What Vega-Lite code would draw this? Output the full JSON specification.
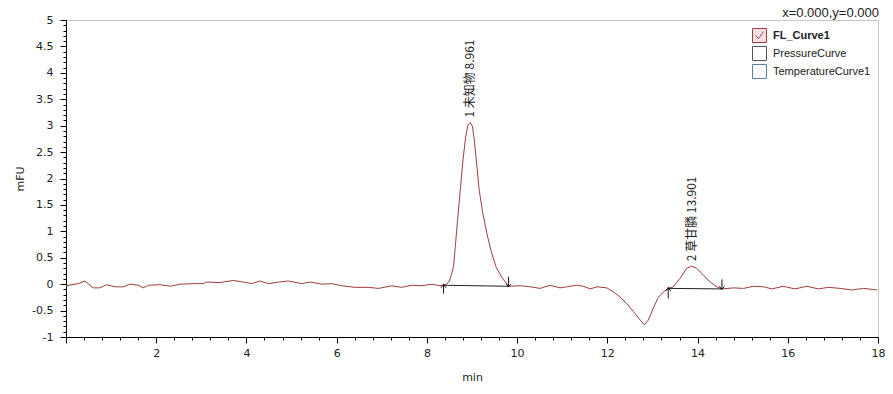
{
  "$schema": "https://vega.github.io/schema/vega-lite/v6.json",
  "width": 812,
  "height": 317,
  "autosize": {"type": "none"},
  "padding": {"left": 66, "top": 20, "right": 15, "bottom": 57},
  "background": "white",
  "title": {"text": "x=0.000,y=0.000", "anchor": "end", "font": "Liberation Sans", "fontSize": 13, "fontWeight": "normal", "color": "#222222", "offset": -6, "dx": -6},
  "config": {
    "view": {"stroke": "#c8c8c8", "strokeWidth": 1},
    "axis": {"domainColor": "#000000", "tickColor": "#000000", "labelColor": "#222222", "titleColor": "#222222", "labelFont": "DejaVu Sans", "labelFontSize": 11, "titleFont": "DejaVu Sans", "titleFontSize": 11, "titleFontWeight": "normal", "grid": false, "labelOverlap": false, "labelBound": false, "tickCount": 200}
  },
  "datasets": {
    "curve": [
      {"t": 0.0, "v": -0.03, "series": "FL_Curve1"}, {"t": 0.27, "v": 0.01, "series": "FL_Curve1"}, {"t": 0.42, "v": 0.06, "series": "FL_Curve1"}, {"t": 0.6, "v": -0.07, "series": "FL_Curve1"}, {"t": 0.75, "v": -0.07, "series": "FL_Curve1"}, {"t": 0.9, "v": -0.01, "series": "FL_Curve1"}, {"t": 1.09, "v": -0.05, "series": "FL_Curve1"}, {"t": 1.27, "v": -0.05, "series": "FL_Curve1"}, {"t": 1.42, "v": 0.0, "series": "FL_Curve1"}, {"t": 1.6, "v": -0.02, "series": "FL_Curve1"}, {"t": 1.71, "v": -0.07, "series": "FL_Curve1"}, {"t": 1.83, "v": -0.02, "series": "FL_Curve1"}, {"t": 2.08, "v": -0.01, "series": "FL_Curve1"}, {"t": 2.31, "v": -0.04, "series": "FL_Curve1"}, {"t": 2.53, "v": 0.0, "series": "FL_Curve1"}, {"t": 2.82, "v": 0.01, "series": "FL_Curve1"}, {"t": 3.04, "v": 0.01, "series": "FL_Curve1"}, {"t": 3.12, "v": 0.04, "series": "FL_Curve1"}, {"t": 3.41, "v": 0.03, "series": "FL_Curve1"}, {"t": 3.71, "v": 0.07, "series": "FL_Curve1"}, {"t": 3.93, "v": 0.04, "series": "FL_Curve1"}, {"t": 4.12, "v": 0.01, "series": "FL_Curve1"}, {"t": 4.29, "v": 0.06, "series": "FL_Curve1"}, {"t": 4.49, "v": 0.01, "series": "FL_Curve1"}, {"t": 4.71, "v": 0.04, "series": "FL_Curve1"}, {"t": 4.93, "v": 0.06, "series": "FL_Curve1"}, {"t": 5.23, "v": 0.01, "series": "FL_Curve1"}, {"t": 5.41, "v": 0.04, "series": "FL_Curve1"}, {"t": 5.67, "v": 0.0, "series": "FL_Curve1"}, {"t": 5.89, "v": 0.01, "series": "FL_Curve1"}, {"t": 6.11, "v": -0.03, "series": "FL_Curve1"}, {"t": 6.41, "v": -0.06, "series": "FL_Curve1"}, {"t": 6.7, "v": -0.06, "series": "FL_Curve1"}, {"t": 6.93, "v": -0.08, "series": "FL_Curve1"}, {"t": 7.22, "v": -0.03, "series": "FL_Curve1"}, {"t": 7.44, "v": -0.06, "series": "FL_Curve1"}, {"t": 7.67, "v": -0.02, "series": "FL_Curve1"}, {"t": 7.89, "v": -0.03, "series": "FL_Curve1"}, {"t": 8.11, "v": 0.0, "series": "FL_Curve1"}, {"t": 8.29, "v": -0.03, "series": "FL_Curve1"}, {"t": 8.37, "v": -0.02, "series": "FL_Curve1"}, {"t": 8.44, "v": 0.0, "series": "FL_Curve1"}, {"t": 8.51, "v": 0.08, "series": "FL_Curve1"}, {"t": 8.59, "v": 0.33, "series": "FL_Curve1"}, {"t": 8.63, "v": 0.71, "series": "FL_Curve1"}, {"t": 8.68, "v": 1.21, "series": "FL_Curve1"}, {"t": 8.74, "v": 1.78, "series": "FL_Curve1"}, {"t": 8.8, "v": 2.35, "series": "FL_Curve1"}, {"t": 8.86, "v": 2.79, "series": "FL_Curve1"}, {"t": 8.91, "v": 3.01, "series": "FL_Curve1"}, {"t": 8.96, "v": 3.06, "series": "FL_Curve1"}, {"t": 9.01, "v": 2.99, "series": "FL_Curve1"}, {"t": 9.05, "v": 2.73, "series": "FL_Curve1"}, {"t": 9.11, "v": 2.22, "series": "FL_Curve1"}, {"t": 9.16, "v": 1.78, "series": "FL_Curve1"}, {"t": 9.24, "v": 1.34, "series": "FL_Curve1"}, {"t": 9.33, "v": 0.96, "series": "FL_Curve1"}, {"t": 9.42, "v": 0.64, "series": "FL_Curve1"}, {"t": 9.53, "v": 0.33, "series": "FL_Curve1"}, {"t": 9.66, "v": 0.13, "series": "FL_Curve1"}, {"t": 9.81, "v": -0.04, "series": "FL_Curve1"}, {"t": 10.07, "v": -0.03, "series": "FL_Curve1"}, {"t": 10.29, "v": -0.05, "series": "FL_Curve1"}, {"t": 10.51, "v": -0.08, "series": "FL_Curve1"}, {"t": 10.73, "v": -0.02, "series": "FL_Curve1"}, {"t": 10.95, "v": -0.07, "series": "FL_Curve1"}, {"t": 11.1, "v": -0.05, "series": "FL_Curve1"}, {"t": 11.32, "v": -0.02, "series": "FL_Curve1"}, {"t": 11.47, "v": -0.04, "series": "FL_Curve1"}, {"t": 11.62, "v": -0.09, "series": "FL_Curve1"}, {"t": 11.77, "v": -0.05, "series": "FL_Curve1"}, {"t": 11.99, "v": -0.07, "series": "FL_Curve1"}, {"t": 12.14, "v": -0.15, "series": "FL_Curve1"}, {"t": 12.28, "v": -0.24, "series": "FL_Curve1"}, {"t": 12.43, "v": -0.37, "series": "FL_Curve1"}, {"t": 12.58, "v": -0.52, "series": "FL_Curve1"}, {"t": 12.73, "v": -0.68, "series": "FL_Curve1"}, {"t": 12.82, "v": -0.77, "series": "FL_Curve1"}, {"t": 12.91, "v": -0.68, "series": "FL_Curve1"}, {"t": 13.02, "v": -0.45, "series": "FL_Curve1"}, {"t": 13.13, "v": -0.25, "series": "FL_Curve1"}, {"t": 13.24, "v": -0.15, "series": "FL_Curve1"}, {"t": 13.35, "v": -0.08, "series": "FL_Curve1"}, {"t": 13.46, "v": -0.05, "series": "FL_Curve1"}, {"t": 13.61, "v": 0.11, "series": "FL_Curve1"}, {"t": 13.76, "v": 0.3, "series": "FL_Curve1"}, {"t": 13.87, "v": 0.34, "series": "FL_Curve1"}, {"t": 13.98, "v": 0.3, "series": "FL_Curve1"}, {"t": 14.13, "v": 0.17, "series": "FL_Curve1"}, {"t": 14.28, "v": 0.04, "series": "FL_Curve1"}, {"t": 14.43, "v": -0.05, "series": "FL_Curve1"}, {"t": 14.54, "v": -0.09, "series": "FL_Curve1"}, {"t": 14.8, "v": -0.07, "series": "FL_Curve1"}, {"t": 15.02, "v": -0.08, "series": "FL_Curve1"}, {"t": 15.24, "v": -0.04, "series": "FL_Curve1"}, {"t": 15.46, "v": -0.05, "series": "FL_Curve1"}, {"t": 15.65, "v": -0.09, "series": "FL_Curve1"}, {"t": 15.9, "v": -0.04, "series": "FL_Curve1"}, {"t": 16.16, "v": -0.09, "series": "FL_Curve1"}, {"t": 16.42, "v": -0.04, "series": "FL_Curve1"}, {"t": 16.68, "v": -0.09, "series": "FL_Curve1"}, {"t": 16.9, "v": -0.06, "series": "FL_Curve1"}, {"t": 17.16, "v": -0.08, "series": "FL_Curve1"}, {"t": 17.42, "v": -0.11, "series": "FL_Curve1"}, {"t": 17.68, "v": -0.08, "series": "FL_Curve1"}, {"t": 17.98, "v": -0.11, "series": "FL_Curve1"}
    ],
    "baselines": [
      {"t1": 8.37, "v1": -0.02, "t2": 9.81, "v2": -0.04},
      {"t1": 13.35, "v1": -0.08, "t2": 14.54, "v2": -0.09}
    ],
    "markers": [
      {"t": 8.37, "lo": -0.18, "hi": 0.01},
      {"t": 9.81, "lo": -0.05, "hi": 0.14},
      {"t": 13.35, "lo": -0.27, "hi": -0.05},
      {"t": 14.54, "lo": -0.09, "hi": 0.09}
    ],
    "arrows": [
      {"t": 8.37, "v": -0.02, "dir": "up"},
      {"t": 9.81, "v": -0.04, "dir": "down"},
      {"t": 13.35, "v": -0.08, "dir": "up"},
      {"t": 14.54, "v": -0.09, "dir": "down"}
    ],
    "peaks": [
      {"t": 8.96, "v": 3.06, "label": "1 未知物 8.961"},
      {"t": 13.87, "v": 0.34, "label": "2 草甘膦 13.901"}
    ]
  },
  "layer": [
    {
      "data": {"name": "curve"},
      "mark": {"type": "line", "strokeWidth": 1, "interpolate": "linear"},
      "encoding": {
        "x": {"field": "t", "type": "quantitative", "title": "min",
          "scale": {"domain": [0, 18], "nice": false, "zero": false},
          "axis": {
            "values": [0, 0.4, 0.8, 1.2, 1.6, 2, 2.4, 2.8, 3.2, 3.6, 4, 4.4, 4.8, 5.2, 5.6, 6, 6.4, 6.8, 7.2, 7.6, 8, 8.4, 8.8, 9.2, 9.6, 10, 10.4, 10.8, 11.2, 11.6, 12, 12.4, 12.8, 13.2, 13.6, 14, 14.4, 14.8, 15.2, 15.6, 16, 16.4, 16.8, 17.2, 17.6, 18],
            "tickCount": 200,
            "labelExpr": "datum.value > 0 && abs(datum.value / 2 - round(datum.value / 2)) < 0.001 ? '' + datum.value : ''",
            "tickSize": {"condition": {"test": "abs(datum.value / 2 - round(datum.value / 2)) < 0.001", "value": 6}, "value": 3},
            "labelPadding": 4, "titlePadding": 13, "labelFlush": false
          }
        },
        "y": {"field": "v", "type": "quantitative", "title": "mFU",
          "scale": {"domain": [-1, 5], "nice": false, "zero": false},
          "axis": {
            "values": [-1, -0.9, -0.8, -0.7, -0.6, -0.5, -0.4, -0.3, -0.2, -0.1, 0, 0.1, 0.2, 0.3, 0.4, 0.5, 0.6, 0.7, 0.8, 0.9, 1, 1.1, 1.2, 1.3, 1.4, 1.5, 1.6, 1.7, 1.8, 1.9, 2, 2.1, 2.2, 2.3, 2.4, 2.5, 2.6, 2.7, 2.8, 2.9, 3, 3.1, 3.2, 3.3, 3.4, 3.5, 3.6, 3.7, 3.8, 3.9, 4, 4.1, 4.2, 4.3, 4.4, 4.5, 4.6, 4.7, 4.8, 4.9, 5],
            "tickCount": 200,
            "labelExpr": "abs(datum.value * 2 - round(datum.value * 2)) < 0.001 ? '' + datum.value : ''",
            "tickSize": {"condition": {"test": "abs(datum.value * 2 - round(datum.value * 2)) < 0.001", "value": 6}, "value": 3},
            "labelPadding": 7, "titlePadding": 6, "labelFlush": false
          }
        },
        "color": {"field": "series", "type": "nominal",
          "scale": {"domain": ["FL_Curve1", "PressureCurve", "TemperatureCurve1"], "range": ["#a03c3c", "#555555", "#5b7fa3"]},
          "legend": {
            "orient": "none", "legendX": 686, "legendY": 8, "title": null,
            "symbolType": "square", "symbolSize": 196, "symbolStrokeWidth": 1,
            "labelFont": "Liberation Sans", "labelFontSize": 11, "labelColor": "#222222",
            "rowPadding": -1, "labelOffset": 6, "padding": 0,
            "encode": {
              "symbols": {"update": {
                "shape": {"signal": "datum.value === 'FL_Curve1' ? 'M-1,-1H1V1H-1Z M-0.55,-0.05L-0.15,0.45L0.55,-0.55' : 'square'"},
                "fill": {"signal": "datum.value === 'FL_Curve1' ? '#f6e0e4' : '#ffffff'"},
                "stroke": {"signal": "datum.value === 'FL_Curve1' ? '#c0484f' : (datum.value === 'PressureCurve' ? '#555555' : '#5b7fa3')"},
                "opacity": {"value": 1},
                "fillOpacity": {"value": 1}
              }},
              "labels": {"update": {"fontWeight": {"signal": "datum.value === 'FL_Curve1' ? 'bold' : 'normal'"}}}
            }
          }
        }
      }
    },
    {
      "data": {"name": "baselines"},
      "mark": {"type": "rule", "color": "#222222", "strokeWidth": 1},
      "encoding": {
        "x": {"field": "t1", "type": "quantitative"},
        "y": {"field": "v1", "type": "quantitative"},
        "x2": {"field": "t2"},
        "y2": {"field": "v2"}
      }
    },
    {
      "data": {"name": "markers"},
      "mark": {"type": "rule", "color": "#111111", "strokeWidth": 1},
      "encoding": {
        "x": {"field": "t", "type": "quantitative"},
        "y": {"field": "lo", "type": "quantitative"},
        "y2": {"field": "hi"}
      }
    },
    {
      "data": {"name": "arrows"},
      "mark": {"type": "point", "filled": false, "size": 25, "strokeWidth": 1, "color": "#111111", "opacity": 1},
      "encoding": {
        "x": {"field": "t", "type": "quantitative"},
        "y": {"field": "v", "type": "quantitative"},
        "shape": {"field": "dir", "type": "nominal", "legend": null,
          "scale": {"domain": ["up", "down"], "range": ["M-1,1L0,-0.2L1,1", "M-1,-1L0,0.2L1,-1"]}}
      }
    },
    {
      "data": {"name": "peaks"},
      "mark": {"type": "text", "angle": 270, "align": "left", "baseline": "middle", "dx": 5, "font": "Noto Sans CJK SC", "fontSize": 12, "color": "#222222"},
      "encoding": {
        "x": {"field": "t", "type": "quantitative"},
        "y": {"field": "v", "type": "quantitative"},
        "text": {"field": "label"}
      }
    }
  ]
}
